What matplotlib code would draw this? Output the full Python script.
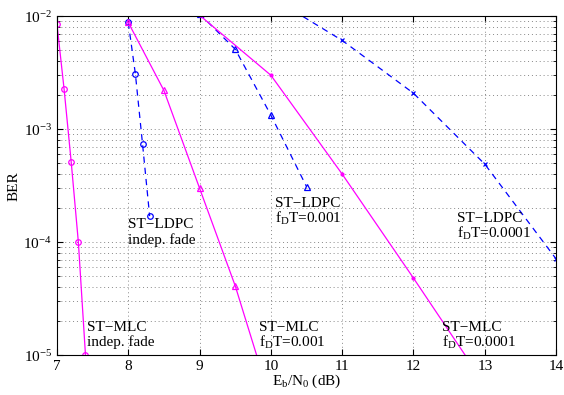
import matplotlib
matplotlib.use("Agg")
import matplotlib.pyplot as plt
from matplotlib.ticker import LogLocator, NullFormatter

plt.rcParams['font.family'] = ['Liberation Serif', 'DejaVu Serif']
plt.rcParams['mathtext.fontset'] = 'custom'
plt.rcParams['mathtext.rm'] = 'Liberation Serif'
plt.rcParams['mathtext.it'] = 'Liberation Serif'

# ST-MLC, independent fading
mlc_ind_x = [7.0, 7.1, 7.2, 7.3, 7.4]
mlc_ind_y = [8.5e-3, 2.26e-3, 5.1e-4, 1.0e-4, 1.0e-5]
# ST-LDPC, independent fading
ldpc_ind_x = [8.0, 8.1, 8.2, 8.3]
ldpc_ind_y = [8.8e-3, 3.07e-3, 7.4e-4, 1.7e-4]
# ST-MLC, fDT = 0.001
mlc_1_x = [8.0, 8.5, 9.0, 9.5, 10.0]
mlc_1_y = [8.8e-3, 2.2e-3, 3.0e-4, 4.1e-5, 3.9e-6]
# ST-LDPC, fDT = 0.001
ldpc_1_x = [9.0, 9.5, 10.0, 10.5]
ldpc_1_y = [1.05e-2, 5.1e-3, 1.33e-3, 3.1e-4]
# ST-MLC, fDT = 0.0001
mlc_2_x = [9.0, 10.0, 11.0, 12.0, 13.0]
mlc_2_y = [1.02e-2, 3.0e-3, 4.0e-4, 4.8e-5, 5.5e-6]
# ST-LDPC, fDT = 0.0001
ldpc_2_x = [10.0, 11.0, 12.0, 13.0, 14.0]
ldpc_2_y = [1.48e-2, 6.1e-3, 2.08e-3, 4.9e-4, 7.1e-5]

mag = '#ff00ff'
blu = '#0000ff'
dash = (5, 4)

fig = plt.figure(figsize=(5.64, 3.95), dpi=100)
ax = fig.add_axes([0.101, 0.101, 0.885, 0.858])

ax.semilogy(mlc_ind_x, mlc_ind_y, ls='-', marker='o', color=mag, lw=0.9, ms=4, mfc='none', mew=0.9)
ax.semilogy(ldpc_ind_x, ldpc_ind_y, ls='--', dashes=dash, marker='o', color=blu, lw=0.9, ms=4, mfc='none', mew=0.9)
ax.semilogy(mlc_1_x, mlc_1_y, ls='-', marker='^', color=mag, lw=0.9, ms=4.5, mfc='none', mew=0.9)
ax.semilogy(ldpc_1_x, ldpc_1_y, ls='--', dashes=dash, marker='^', color=blu, lw=0.9, ms=4.5, mfc='none', mew=0.9)
ax.semilogy(mlc_2_x, mlc_2_y, ls='-', marker='.', color=mag, lw=0.9, ms=4)
ax.semilogy(ldpc_2_x, ldpc_2_y, ls='--', dashes=dash, marker='x', color=blu, lw=0.9, ms=3.5, mew=0.9)

ax.set_xlim(7, 14)
ax.set_ylim(1e-5, 1e-2)
ax.set_xticks(range(7, 15))
ax.yaxis.set_minor_locator(LogLocator(base=10, subs=range(2, 10)))
ax.yaxis.set_minor_formatter(NullFormatter())
ax.tick_params(which='both', direction='in', top=True, right=True, labelsize=11)
ax.tick_params(which='major', length=4)
ax.tick_params(which='minor', length=2.5)
grid_style = dict(linestyle=(0, (1, 3)), color='#888888', lw=0.7)
ax.grid(True, which='major', axis='both', **grid_style)
ax.grid(True, which='minor', axis='y', **grid_style)

ax.set_xlabel(r'E$_\mathrm{b}$/N$_\mathrm{0}$ (dB)', fontsize=11, labelpad=0)
ax.set_ylabel('BER', fontsize=11, labelpad=2)

fs = 11
ax.text(8.0, 1.63e-4, 'ST\u2212LDPC\nindep. fade', fontsize=fs, va='top', ha='left', linespacing=1.15)
ax.text(10.06, 2.5e-4, 'ST\u2212LDPC\nf$_\\mathrm{D}$T=0.001', fontsize=fs, va='top', ha='left', linespacing=1.0)
ax.text(12.61, 1.84e-4, 'ST\u2212LDPC\nf$_\\mathrm{D}$T=0.0001', fontsize=fs, va='top', ha='left', linespacing=1.0)
ax.text(7.42, 2.0e-5, 'ST\u2212MLC\nindep. fade', fontsize=fs, va='top', ha='left', linespacing=1.15)
ax.text(9.83, 2.0e-5, 'ST\u2212MLC\nf$_\\mathrm{D}$T=0.001', fontsize=fs, va='top', ha='left', linespacing=1.0)
ax.text(12.40, 2.0e-5, 'ST\u2212MLC\nf$_\\mathrm{D}$T=0.0001', fontsize=fs, va='top', ha='left', linespacing=1.0)

fig.savefig('out.png', dpi=100)
